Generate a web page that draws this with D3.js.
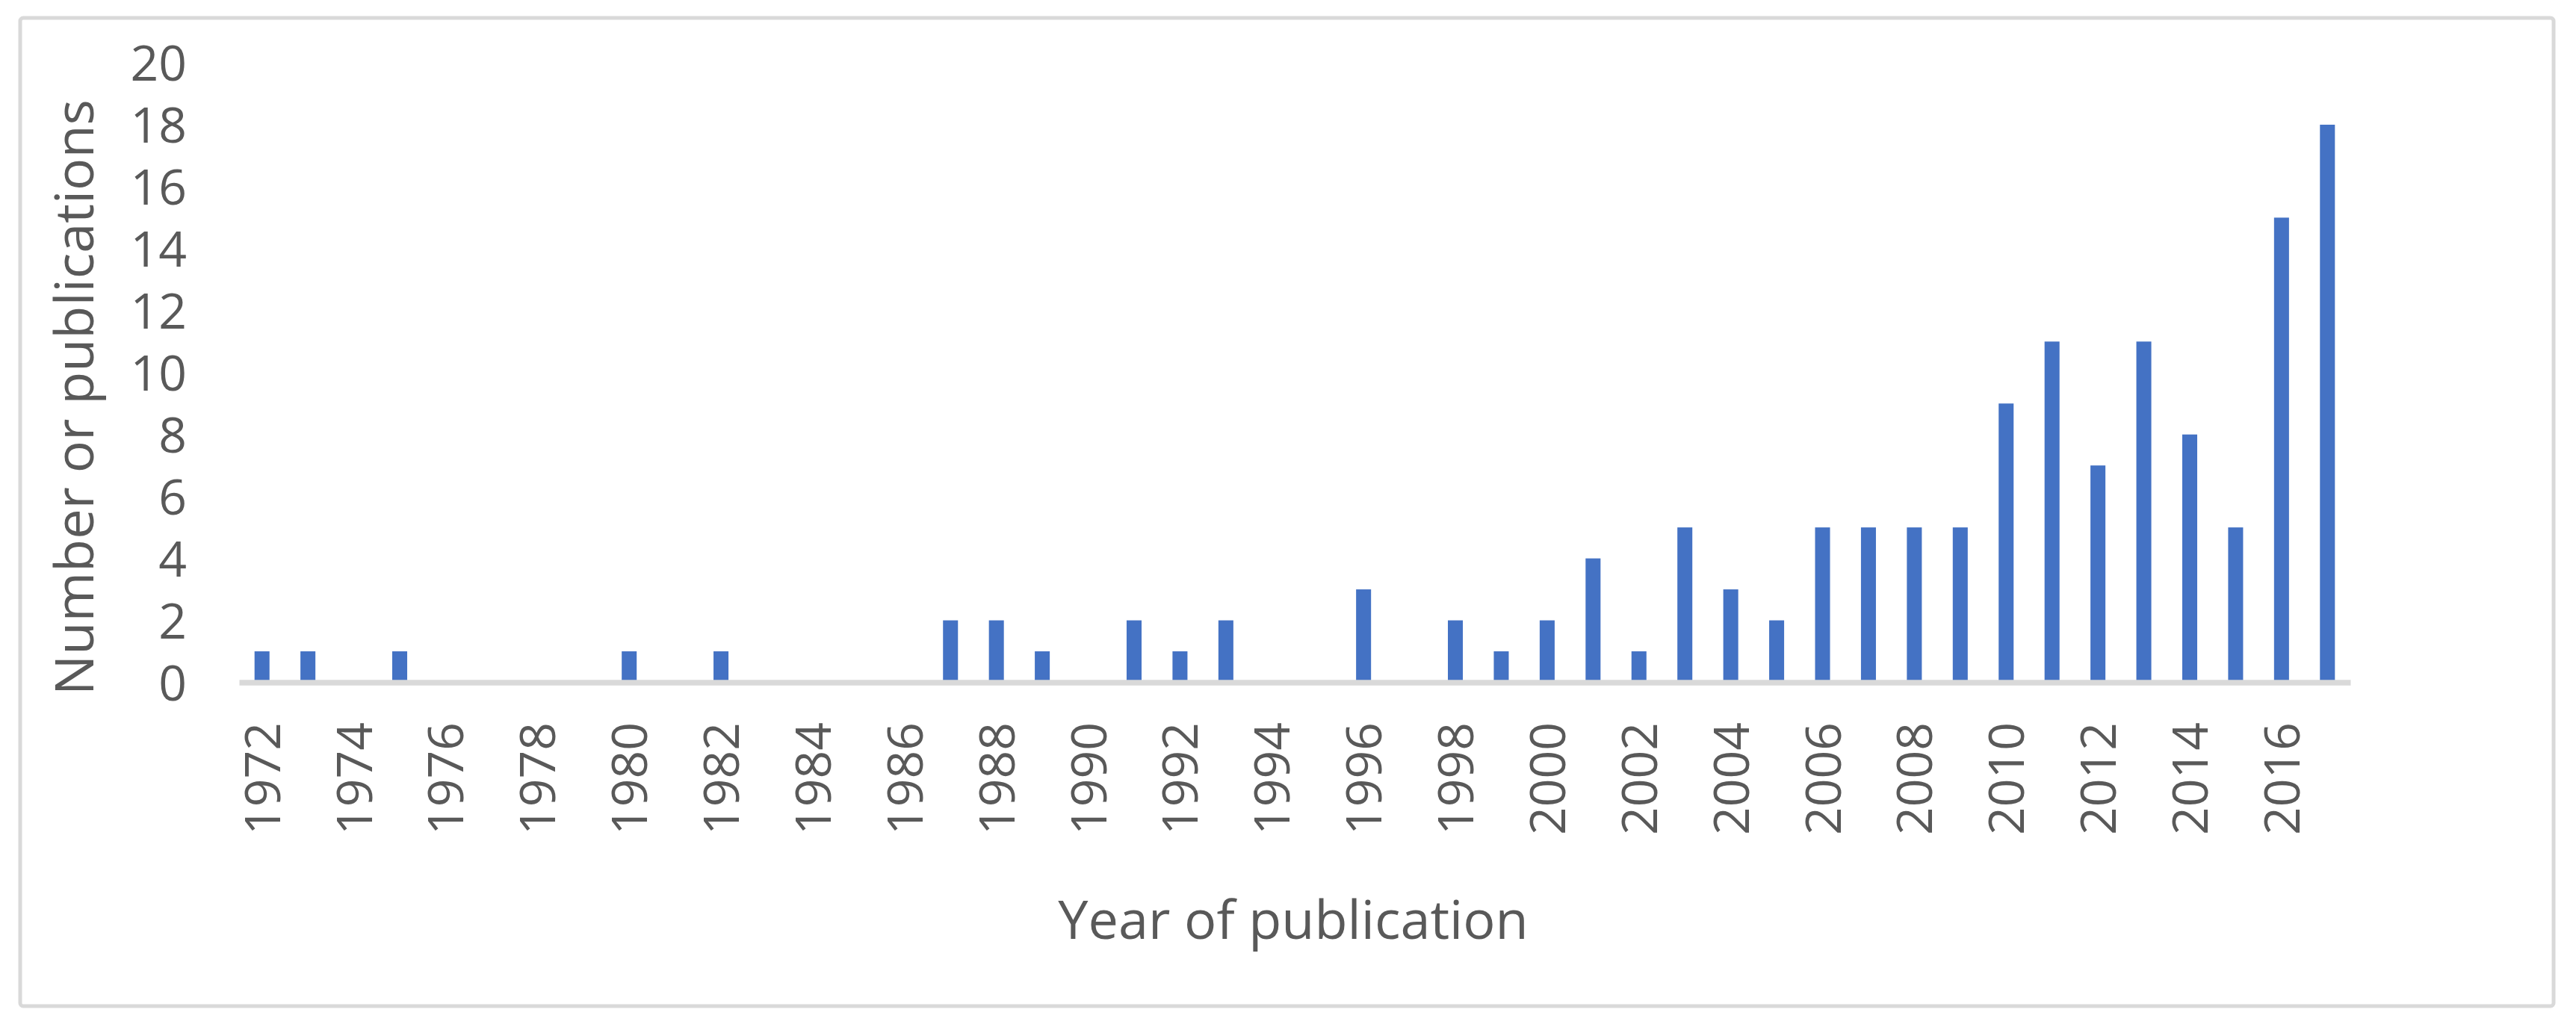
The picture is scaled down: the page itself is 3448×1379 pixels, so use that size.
<!DOCTYPE html>
<html>
<head>
<meta charset="utf-8">
<script src="https://cdn.jsdelivr.net/npm/d3@7/dist/d3.min.js"></script>
<style>
  html, body { margin: 0; padding: 0; background: #fff; }
  svg { display: block; font-family: "Open Sans", sans-serif; }
</style>
</head>
<body>
<div id="chart"></div>
<script>
const years = d3.range(1972, 2018)

const publications = [
  1, 1, 0, 1, 0, 0, 0, 0, 1, 0,   // 1972-1981
  1, 0, 0, 0, 0, 2, 2, 1, 0, 2,   // 1982-1991
  1, 2, 0, 0, 3, 0, 2, 1, 2, 4,   // 1992-2001
  1, 5, 3, 2, 5, 5, 5, 5, 9, 11,  // 2002-2011
  7, 11, 8, 5, 15, 18             // 2012-2017
]

const yearLabels = years.filter(y => y % 2 === 0)
const yTicks = d3.range(0, 21, 2)

const xTitle = "Year of publication"
const yTitle = "Number or publications"

const WIDTH = 3448
const HEIGHT = 1379
const TEXT_COLOR = "#595959"
const BAR_COLOR = "#4472c4"
const LINE_COLOR = "#d9d9d9"

const data = years.map((year, i) => ({ year, value: publications[i] }))

const svg = d3.select("#chart")
  .append("svg")
  .attr("width", WIDTH)
  .attr("height", HEIGHT)
  .attr("viewBox", [0, 0, WIDTH, HEIGHT])

// Chart border
svg.append("rect")
  .attr("x", 27)
  .attr("y", 24)
  .attr("width", 3391)
  .attr("height", 1323)
  .attr("rx", 4)
  .attr("fill", "#fff")
  .attr("stroke", LINE_COLOR)
  .attr("stroke-width", 5)

const x = d3.scaleBand()
  .domain(years)
  .range([320, 3146])
  .paddingInner(0.674)
  .paddingOuter(0.337)

const y = d3.scaleLinear()
  .domain([0, 20])
  .range([913.5, 84])

// Bars
svg.append("g")
  .selectAll("rect")
  .data(data.filter(d => d.value > 0))
  .join("rect")
  .attr("x", d => x(d.year))
  .attr("y", d => y(d.value))
  .attr("width", x.bandwidth())
  .attr("height", d => y(0) - y(d.value))
  .attr("fill", BAR_COLOR)

// X axis
const xAxis = svg.append("g")
  .attr("transform", `translate(0,${y(0)})`)
  .call(d3.axisBottom(x).tickValues(yearLabels).tickSize(0).tickSizeOuter(0))

xAxis.select(".domain")
  .attr("stroke", LINE_COLOR)
  .attr("stroke-width", 7.5)

xAxis.selectAll(".tick text")
  .attr("transform", "rotate(-90)")
  .attr("x", -53.5)
  .attr("y", 24)
  .attr("dy", 0)
  .attr("text-anchor", "end")
  .attr("font-size", 66)
  .attr("font-family", "Open Sans, sans-serif")
  .attr("fill", TEXT_COLOR)

// Y axis, labels only
const yAxis = svg.append("g")
  .attr("transform", "translate(250,0)")
  .call(d3.axisLeft(y).tickValues(yTicks).tickSize(0).tickPadding(0))

yAxis.select(".domain").remove()
yAxis.selectAll(".tick text")
  .attr("dy", "0.36em")
  .attr("font-size", 66)
  .attr("font-family", "Open Sans, sans-serif")
  .attr("fill", TEXT_COLOR)

// Axis titles
svg.append("text")
  .attr("x", 1731)
  .attr("y", 1257)
  .attr("text-anchor", "middle")
  .attr("font-size", 72)
  .attr("fill", TEXT_COLOR)
  .text(xTitle)

svg.append("text")
  .attr("transform", "translate(125,532) rotate(-90)")
  .attr("text-anchor", "middle")
  .attr("font-size", 72)
  .attr("fill", TEXT_COLOR)
  .text(yTitle)
</script>
</body>
</html>
